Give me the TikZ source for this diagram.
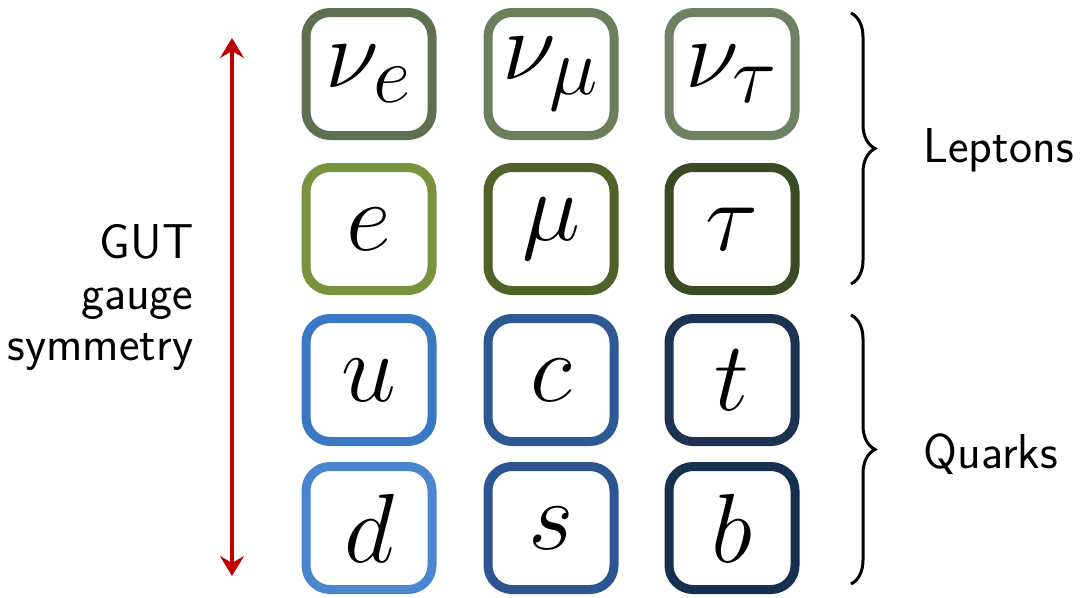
\documentclass[tikz,border=0pt]{standalone}
\usetikzlibrary{arrows.meta,decorations.pathreplacing}
\definecolor{nuE}{HTML}{5F7052}
\definecolor{nuM}{HTML}{6B7F5D}
\definecolor{nuT}{HTML}{6E8263}
\definecolor{lepE}{HTML}{77933C}
\definecolor{lepM}{HTML}{4F6228}
\definecolor{lepT}{HTML}{3A4A22}
\definecolor{qU}{HTML}{3A78C3}
\definecolor{qC}{HTML}{2D5A94}
\definecolor{qT}{HTML}{1E3354}
\definecolor{qD}{HTML}{4A86D0}
\definecolor{qS}{HTML}{2C5591}
\definecolor{qB}{HTML}{17304F}
\definecolor{gutred}{HTML}{C00000}
\tikzset{
  particle/.style={draw=#1, line width=9pt, rounded corners=24pt,
    minimum width=126pt, minimum height=123pt, inner sep=0pt, fill=white},
  sym/.style={font=\Huge, scale=3.95},
  labelfont/.style={font=\sffamily\fontsize{49}{51}\selectfont},
  grouplabel/.style={labelfont, anchor=west},
  bracket/.style={decorate, decoration={brace, amplitude=24pt}, line width=3pt},
}
\begin{document}
\begin{tikzpicture}[x=1pt,y=-1pt]
  \useasboundingbox (0,0) rectangle (1081,597);

  % lepton and quark grid
  \node[particle=nuE] (nue)   at (369,74)  {};
  \node[particle=nuM] (numu)  at (551,74)  {};
  \node[particle=nuT] (nutau) at (732,74)  {};
  \node[particle=lepE] (e)    at (369,229) {};
  \node[particle=lepM] (mu)   at (551,229) {};
  \node[particle=lepT] (tau)  at (732,229) {};
  \node[particle=qU] (u) at (369,380) {};
  \node[particle=qC] (c) at (551,380) {};
  \node[particle=qT] (t) at (732,380) {};
  \node[particle=qD] (d) at (369,528) {};
  \node[particle=qS] (s) at (551,528) {};
  \node[particle=qB] (b) at (732,528) {};

  \node[sym] at (nue)   {$\nu_e$};
  \node[sym] at (numu)  {$\nu_\mu$};
  \node[sym] at (nutau) {$\nu_\tau$};
  \node[sym] at (e)   {$e$};
  \node[sym] at (mu)  {$\mu$};
  \node[sym] at (tau) {$\tau$};
  \node[sym] at (u) {$u$};
  \node[sym] at (c) {$c$};
  \node[sym] at (t) {$t$};
  \node[sym] at (d) {$d$};
  \node[sym] at (s) {$s$};
  \node[sym] at (b) {$b$};

  % gauge symmetry arrow
  \coordinate (gtop) at (232,38);
  \coordinate (gbot) at (232,576);
  \draw[gutred, line width=4pt,
        {Stealth[length=20pt,width=24pt,inset=7pt]}-{Stealth[length=20pt,width=24pt,inset=7pt]}]
        (gtop) -- (gbot);
  \node[labelfont, align=right, anchor=east]
        (gut) at (197,297) {GUT\\gauge\\symmetry};

  % group braces
  \coordinate (lt) at (851,13);
  \coordinate (lb) at (851,284);
  \coordinate (qt) at (851,315);
  \coordinate (qb) at (851,584);
  \draw[bracket] (lt) -- (lb);
  \draw[bracket] (qt) -- (qb);
  \node[grouplabel] (leptons) at (920,150) {Leptons};
  \node[grouplabel] (quarks)  at (920,454) {Quarks};
\end{tikzpicture}
\end{document}
